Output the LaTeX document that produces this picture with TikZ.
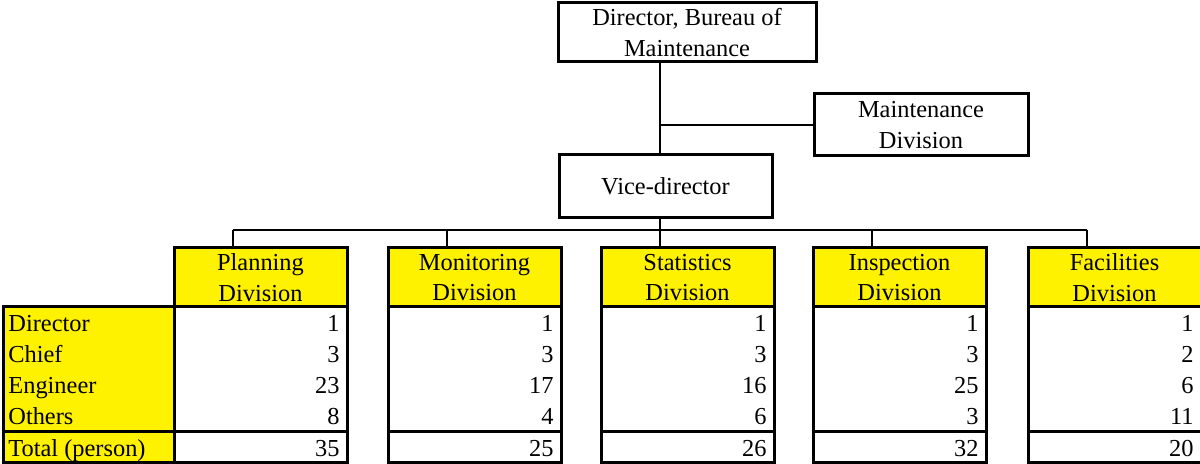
\documentclass[tikz,border=0pt]{standalone}
\usepackage{fontspec}
\setmainfont{Liberation Serif}
\usepackage{tikz}

\begin{document}
\begin{tikzpicture}[x=0.5pt, y=-0.5pt,
  font=\fontsize{12.2}{15.2}\selectfont,
  box/.style={rectangle, draw, line width=1.5pt, align=center, inner sep=0pt},
  head/.style={box, fill=yellow, minimum width=86.5pt, minimum height=29.5pt},
  data/.style={box, minimum width=86.5pt, minimum height=62.5pt},
  total/.style={box, minimum width=86.5pt, minimum height=15.5pt},
  num/.style={anchor=base east, inner sep=0pt},
  lbl/.style={anchor=base west, inner sep=0pt},
  link/.style={line width=0.6pt}]
  \useasboundingbox (0,0) rectangle (1200,464);

  % Nodes
  \node[box, minimum width=129pt, minimum height=29.5pt] (dir) at (687,32.5) {Director, Bureau of\\Maintenance};
  \node[box, minimum width=107pt, minimum height=31pt] (maint) at (921,125) {Maintenance\\Division};
  \node[box, minimum width=106.5pt, minimum height=31.5pt] (vice) at (665.5,186.5) {Vice-director};

  \node[box, fill=yellow, minimum width=85.5pt, minimum height=62.5pt] (labels) at (88.5,369.5) {};
  \node[box, fill=yellow, minimum width=85.5pt, minimum height=15.5pt] (labtotal) at (88.5,447.5) {};
  \node[lbl] (ldirector) at (8,332) {Director};
  \node[lbl] (lchief) at (8,363) {Chief};
  \node[lbl] (lengineer) at (8,394) {Engineer};
  \node[lbl] (lothers) at (8,425) {Others};
  \node[lbl] (ltotal) at (8,457) {Total (person)};

  \coordinate (tap) at (660,125);
  \coordinate (busL) at (233,230);
  \coordinate (busR) at (1087,230);

  \foreach \cl/\nm/\a/\b/\c/\d/\t [count=\i] in {
      174/Planning/1/3/23/8/35,
      388/Monitoring/1/3/17/4/25,
      601/Statistics/1/3/16/6/26,
      813/Inspection/1/3/25/3/32,
      1028/Facilities/1/2/6/11/20} {
    \node[head] (head\i) at (\cl+86.5,277.5) {\nm\\Division};
    \node[data] (data\i) at (\cl+86.5,369.5) {};
    \node[total] (tot\i) at (\cl+86.5,447.5) {};
    \foreach \v/\yb [count=\j] in {\a/332,\b/363,\c/394,\d/425}
      \node[num] (n\i-\j) at (\cl+166,\yb) {\v};
    \node[num] (nt\i) at (\cl+166,457) {\t};
    % drop from the bus
    \coordinate (drop\i) at (\cl+59,230);
    \draw[link] (drop\i) -- (drop\i |- head\i.north);
  }

  % Edges
  \draw[link] (tap |- dir.south) -- (tap |- vice.north);
  \draw[link] (tap) -- (maint.west);
  \draw[link] (tap |- vice.south) -- (tap |- busL);
  \draw[link] (busL) -- (busR);
\end{tikzpicture}
\end{document}
